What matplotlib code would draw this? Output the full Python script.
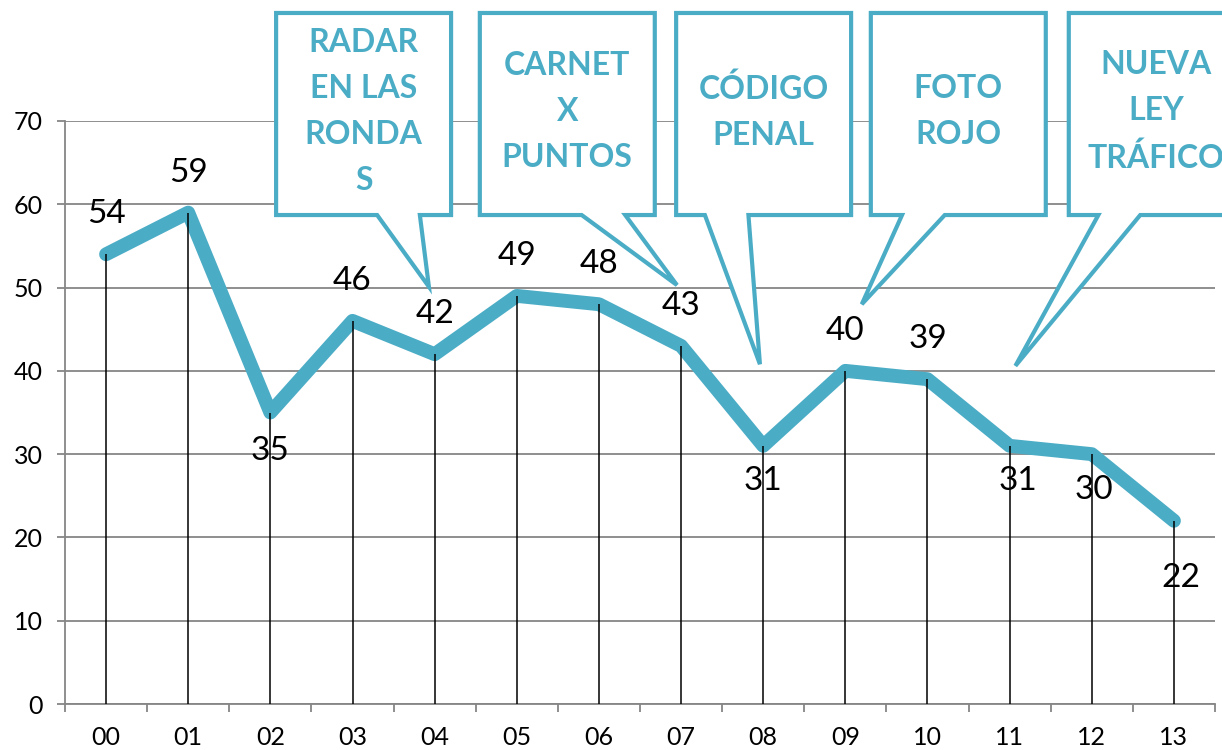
import numpy as np
import matplotlib
matplotlib.use("Agg")
import matplotlib.pyplot as plt
from matplotlib.patches import Polygon

plt.rcParams['font.family'] = ['Lato', 'DejaVu Sans']

# Datos
categorias = ['00', '01', '02', '03', '04', '05', '06', '07', '08', '09', '10', '11', '12', '13']
valores = [54, 59, 35, 46, 42, 49, 48, 43, 31, 40, 39, 31, 30, 22]

# Textos de los globos
globos = ['RADAR\nEN LAS\nRONDA\nS', 'CARNET\nX\nPUNTOS', 'CÓDIGO\nPENAL', 'FOTO\nROJO', 'NUEVA\nLEY\nTRÁFICO']

# Colocación (en unidades de los ejes)
globo_izq = [2.07, 4.55, 6.94, 9.31, 11.72]
globo_base = [(3.30, 3.82), (5.79, 6.32), (7.29, 7.82), (9.69, 10.21), (12.08, 12.59)]
globo_punta = [(3.93, 50.1), (6.95, 50.3), (7.96, 40.8), (9.20, 48.0), (11.07, 40.6)]
globo_ancho = 2.13
globo_arriba, globo_abajo = 82.97, 58.71

# desplazamiento de etiquetas en pixeles (dx, dy)
desp = {2: (0, -38), 8: (0, -35), 11: (8, -35), 12: (2, -36), 13: (7, -57)}

azul = '#4BACC6'
gris = '#868686'

fig = plt.figure(figsize=(12.22, 7.5), dpi=100)
ax = fig.add_axes([65 / 1222, 46 / 750, 1150 / 1222, 583 / 750])

x = np.arange(len(categorias))
ax.plot(x, valores, color=azul, lw=10, solid_capstyle='round', solid_joinstyle='round', zorder=2)
ax.vlines(x, 0, valores, color='black', lw=1.1, zorder=3)

for i, v in enumerate(valores):
    dx, dy = desp.get(i, (0, 40))
    ax.annotate(str(v), (i, v), xytext=(dx, dy), textcoords='offset pixels',
                ha='center', va='center', fontsize=24, color='black', zorder=4)

ax.set_xlim(-0.5, len(categorias) - 0.5)
ax.set_ylim(0, 70)
ax.set_yticks(range(0, 71, 10))
ax.set_xticks(np.arange(-0.5, len(categorias)), labels=[''] * (len(categorias) + 1))
ax.set_xticks(x, labels=categorias, minor=True)
ax.tick_params(axis='x', which='major', length=6, width=1.3, color=gris, direction='out')
ax.tick_params(axis='x', which='minor', length=0, pad=16, labelsize=18)
ax.tick_params(axis='y', length=6, width=1.3, color=gris, pad=10, labelsize=18)
ax.grid(axis='y', color=gris, lw=1.3, zorder=0)
ax.set_axisbelow(True)
for s in ['top', 'right']:
    ax.spines[s].set_visible(False)
for s in ['left', 'bottom']:
    ax.spines[s].set_color(gris)
    ax.spines[s].set_linewidth(1.3)

# Globos
for txt, izq, (a, b), punta in zip(globos, globo_izq, globo_base, globo_punta):
    der = izq + globo_ancho
    pts = [(izq, globo_arriba), (der, globo_arriba), (der, globo_abajo), (b, globo_abajo),
           punta, (a, globo_abajo), (izq, globo_abajo)]
    ax.add_patch(Polygon(pts, closed=True, facecolor='white', edgecolor=azul, lw=3,
                         joinstyle='miter', clip_on=False, zorder=5))
    ax.text((izq + der) / 2, (globo_arriba + globo_abajo) / 2 + 0.3, txt, ha='center', va='center',
            fontsize=23, fontweight='bold', color=azul, linespacing=1.7, zorder=6, clip_on=False)

fig.savefig('out.png', dpi=100)
